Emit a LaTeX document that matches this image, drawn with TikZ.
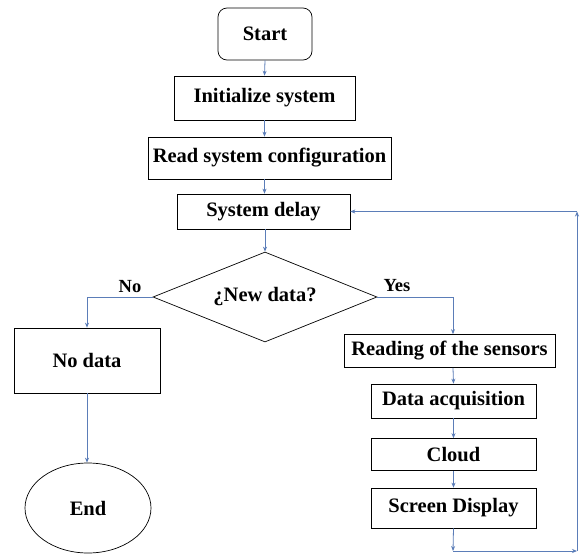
\documentclass[tikz,border=0pt]{standalone}
\usepackage{fontspec}
\setmainfont{Liberation Serif}
\usetikzlibrary{shapes.geometric,arrows.meta}
\definecolor{conn}{HTML}{5B7DB8}
\begin{document}
\begin{tikzpicture}[x=1pt,y=-1pt,
  box/.style={draw=black,line width=0.7pt,inner sep=0pt,align=center,
    font=\fontsize{20.5}{24}\selectfont\bfseries},
  lbl/.style={inner sep=0pt,font=\fontsize{18.5}{21}\selectfont\bfseries},
  arr/.style={draw=conn,line width=0.8pt,-{Stealth[length=5pt,width=4pt]}},
  ln/.style={draw=conn,line width=0.8pt}]
\useasboundingbox[fill=white] (0,0) rectangle (581,555);
\node[box,rounded corners=9pt,minimum width=94pt,minimum height=52pt] (start) at (265,34) {Start};
\node[box,minimum width=181pt,minimum height=44pt] (init) at (264.5,98) {Initialize system};
\node[box,minimum width=243pt,minimum height=42pt] (read) at (269.5,158) {Read system configuration};
\node[box,minimum width=173pt,minimum height=35pt] (delay) at (263.5,211.5) {System delay};
\node[box,diamond,aspect=2.49,minimum width=224pt,minimum height=90pt] (dec) at (265,297) {¿New data?};
\node[box,minimum width=146pt,minimum height=65pt] (nodata) at (87,360.5) {No data};
\node[box,ellipse,minimum width=126pt,minimum height=90pt] (end) at (88,508) {End};
\node[box,minimum width=211pt,minimum height=33pt] (sens) at (449.5,351) {Reading of the sensors};
\node[box,minimum width=165pt,minimum height=34pt] (acq) at (453.5,401) {Data acquisition};
\node[box,minimum width=165pt,minimum height=32pt] (cloud) at (453.5,454.5) {Cloud};
\node[box,minimum width=165pt,minimum height=40pt] (disp) at (453.5,508) {Screen Display};
\node[lbl] (no) at (130,287) {No};
\node[lbl] (yes) at (397,286) {Yes};
\coordinate (nl) at (87,297);
\coordinate (yr) at (453,297);
\coordinate (b1) at (453,551);
\coordinate (b2) at (577,551);
\coordinate (b3) at (577,211.5);
\draw[arr] (start.south) -- (init.north);
\draw[arr] (init.south) -- (init.south |- read.north);
\draw[arr] (init.south |- read.south) -- (init.south |- delay.north);
\draw[arr] (delay.south -| dec.north) -- (dec.north);
\draw[ln] (dec.west) -- (nl);
\draw[arr] (nl) -- (nodata.north);
\draw[arr] (nodata.south) -- (nodata.south |- end.north);
\draw[ln] (dec.east) -- (yr);
\draw[arr] (yr) -- (yr |- sens.north);
\draw[arr] (yr |- sens.south) -- (acq.north);
\draw[arr] (acq.south) -- (cloud.north);
\draw[arr] (cloud.south) -- (disp.north);
\draw[arr] (disp.south) -- (b1);
\draw[arr] (b1) -- (b2);
\draw[arr] (b2) -- (b3);
\draw[arr] (b3) -- (delay.east);
\end{tikzpicture}
\end{document}
